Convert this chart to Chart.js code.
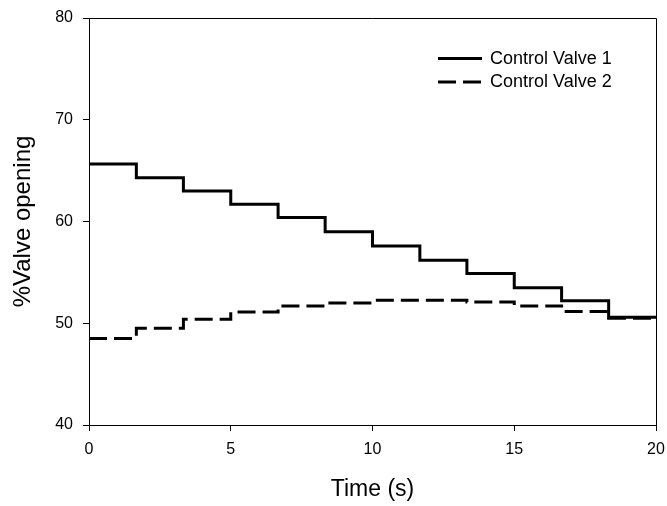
<!DOCTYPE html>
<html>
<head>
<meta charset="utf-8">
<script src="https://cdn.jsdelivr.net/npm/chart.js@4"></script>
<style>
  html, body { margin: 0; padding: 0; background: #fff; }
  #wrap { width: 667px; height: 506px; }
</style>
</head>
<body>
<div id="wrap"><canvas id="c" width="667" height="506"></canvas></div>
<script>
// ---- data ----
const times = [0, 1.67, 3.33, 5, 6.67, 8.33, 10, 11.67, 13.33, 15, 16.67, 18.33, 20];
const valve1 = [65.65, 64.3, 63.0, 61.7, 60.4, 59.0, 57.6, 56.2, 54.9, 53.5, 52.2, 50.6, 50.6];
const valve2 = [48.5, 49.5, 50.4, 51.1, 51.7, 52.0, 52.25, 52.25, 52.1, 51.7, 51.15, 50.5, 50.5];
const seriesNames = ['Control Valve 1', 'Control Valve 2'];
const xTitle = 'Time (s)';
const yTitle = '%Valve opening';

const FONT = '"Liberation Sans", Arial, sans-serif';

function toPoints(xs, ys) { return xs.map((x, i) => ({ x: x, y: ys[i] })); }

const boxPlugin = {
  id: 'box',
  afterDatasetsDraw(chart) {
    const { ctx, chartArea: a } = chart;
    ctx.save();
    ctx.strokeStyle = '#000';
    ctx.lineWidth = 1;
    ctx.beginPath();
    ctx.moveTo(a.left, a.top + 0.5);
    ctx.lineTo(a.right + 0.5, a.top + 0.5);
    ctx.lineTo(a.right + 0.5, a.bottom);
    ctx.stroke();
    ctx.restore();
  }
};

const legendPlugin = {
  id: 'inLegend',
  afterDraw(chart) {
    const { ctx, chartArea: a } = chart;
    ctx.save();
    chart.data.datasets.forEach((ds, i) => {
      const y = a.top + 40.5 + i * 23.5;
      const x0 = a.right - 218;
      ctx.strokeStyle = ds.borderColor;
      ctx.lineWidth = 3;
      ctx.setLineDash(ds.borderDash || []);
      ctx.beginPath();
      ctx.moveTo(x0, y);
      ctx.lineTo(x0 + 44, y);
      ctx.stroke();
      ctx.setLineDash([]);
      ctx.fillStyle = '#000';
      ctx.font = '18px ' + FONT;
      ctx.textBaseline = 'middle';
      ctx.textAlign = 'left';
      ctx.fillText(ds.label, x0 + 52, y + 0.5);
    });
    ctx.restore();
  }
};

new Chart(document.getElementById('c'), {
  type: 'line',
  data: {
    datasets: [
      {
        label: seriesNames[0],
        data: toPoints(times, valve1),
        borderColor: '#000',
        borderWidth: 3,
        stepped: 'before',
        pointRadius: 0,
        fill: false
      },
      {
        label: seriesNames[1],
        data: toPoints(times, valve2),
        borderColor: '#000',
        borderWidth: 3,
        borderDash: [18, 7],
        stepped: 'before',
        pointRadius: 0,
        fill: false
      }
    ]
  },
  options: {
    responsive: false,
    animation: false,
    layout: { padding: { top: 18, right: 11, left: 0, bottom: 0 } },
    plugins: {
      legend: { display: false },
      tooltip: { enabled: false }
    },
    scales: {
      x: {
        type: 'linear',
        min: 0, max: 20,
        afterFit(s) { s.height = 81; s.paddingRight = 0; s.paddingLeft = 0; },
        ticks: { stepSize: 5, color: '#000', padding: 9, font: { family: FONT, size: 16 }, maxRotation: 0 },
        grid: { display: true, drawOnChartArea: false, drawTicks: true, tickLength: 6, color: '#000', lineWidth: 1 },
        border: { display: true, color: '#000', width: 1 },
        title: { display: true, text: xTitle, color: '#000', font: { family: FONT, size: 23 }, padding: { top: 0, bottom: 3 } }
      },
      y: {
        type: 'linear',
        min: 40, max: 80,
        afterFit(s) { s.width = 89; s.paddingTop = 0; s.paddingBottom = 0; },
        ticks: { stepSize: 10, color: '#000', padding: 10, font: { family: FONT, size: 16 } },
        grid: { display: true, drawOnChartArea: false, drawTicks: true, tickLength: 6, color: '#000', lineWidth: 1 },
        border: { display: true, color: '#000', width: 1 },
        title: { display: true, text: yTitle, color: '#000', font: { family: FONT, size: 24 }, padding: { top: 9, bottom: 0 } }
      }
    }
  },
  plugins: [boxPlugin, legendPlugin]
});
</script>
</body>
</html>
